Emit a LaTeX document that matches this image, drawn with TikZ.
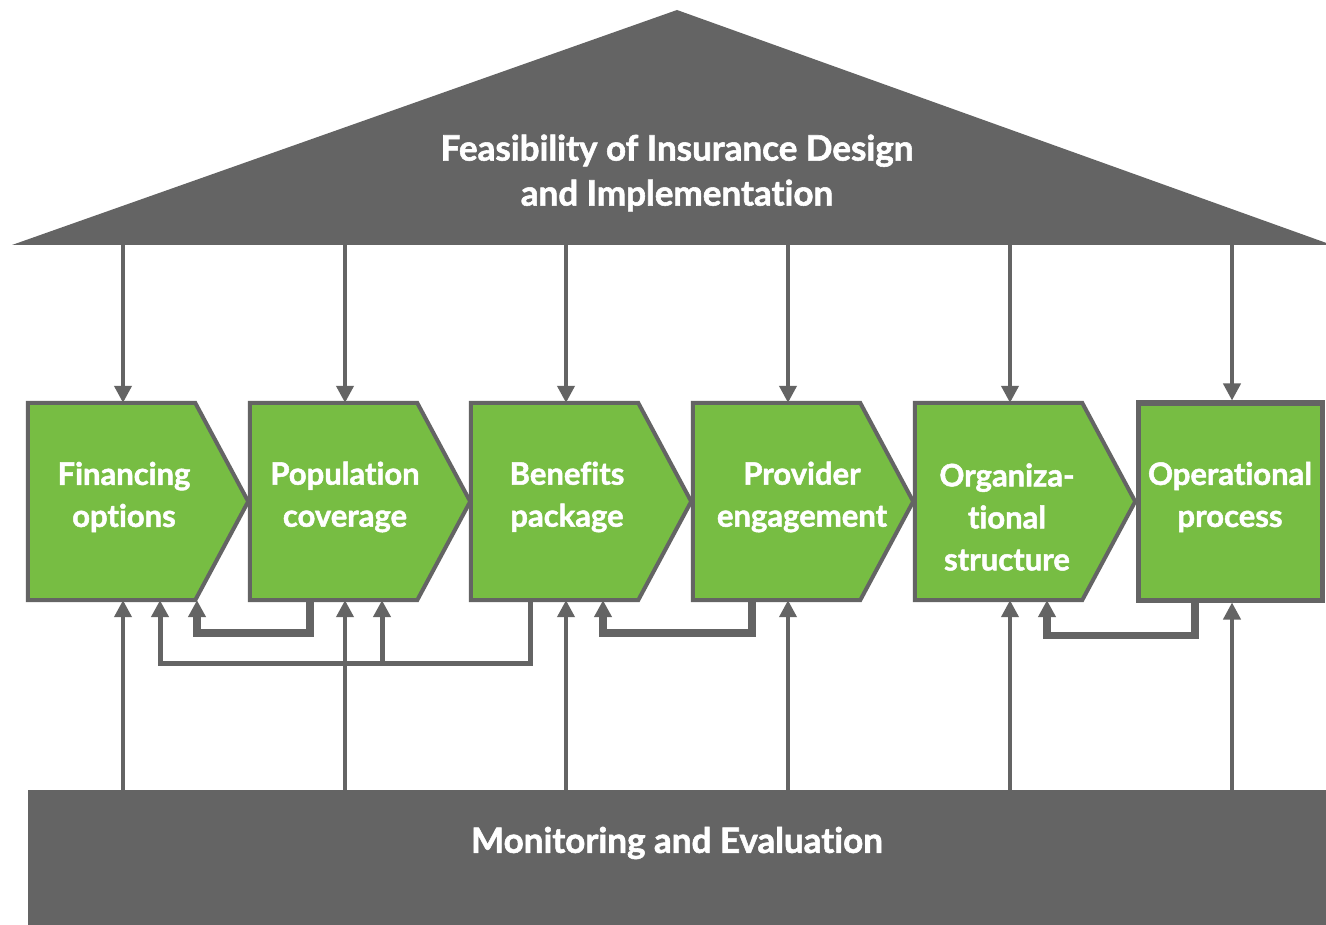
\documentclass[tikz,border=0pt]{standalone}
\usepackage{fontspec}
\setmainfont{Lato}[Ligatures=NoCommon, BoldFeatures={FakeBold=1.6}]
\usetikzlibrary{arrows.meta,calc}
\definecolor{slate}{HTML}{646464}
\definecolor{leaf}{HTML}{77BD43}

\begin{document}
\begin{tikzpicture}[x=1pt,y=-1pt,
  stage/.style={minimum width=220pt, minimum height=197pt, inner sep=0pt, draw=none},
  lastframe/.style={minimum width=184pt, minimum height=197pt, inner sep=0pt,
    fill=leaf, draw=slate, line width=5pt},
  stageshape/.style={fill=leaf, draw=slate, line width=4pt, line join=miter},
  stagetext/.style={text=white, font=\bfseries\fontsize{31}{42}\selectfont, align=center, inner sep=0pt},
  bigtext/.style={text=white, font=\bfseries\fontsize{35}{45}\selectfont, align=center, inner sep=0pt},
  arr/.style={draw=slate, line width=4pt, -{Triangle[width=17pt,length=17pt]}},
  fbthick/.style={draw=slate, line width=7.5pt, -{Triangle[width=17pt,length=17pt]}},
  fbmed/.style={draw=slate, line width=5pt, -{Triangle[width=17pt,length=17pt]}},
]
% canvas
\fill[white] (0,0) rectangle (1326,925);
\useasboundingbox (0,0) rectangle (1326,925);

% roof
\coordinate (roofL) at (12,245);
\coordinate (roofT) at (677,10);
\coordinate (roofR) at (1332,245);
\fill[slate] (roofL) -- (roofT) -- (roofR) -- cycle;
\node[bigtext] (roof) at (677,173) {Feasibility of Insurance Design\\and Implementation};

% base bar
\node[fill=slate, minimum width=1304pt, minimum height=140pt, inner sep=0pt] (me) at (680,860) {};
\node[bigtext] (metext) at (677,843) {Monitoring and Evaluation};

% stage axes
\foreach \i/\x in {1/123,2/345,3/566,4/788,5/1010,6/1232}
  \coordinate (a\i) at (\x,0);

% stages with arrow-shaped right side
\foreach \i/\x in {1/138,2/360,3/581,4/803,5/1025}{
  \node[stage] (b\i) at (\x,501.5) {};
  \draw[stageshape] (b\i.north west) -- ([xshift=-53pt]b\i.north east) -- (b\i.east)
    -- ([xshift=-53pt]b\i.south east) -- (b\i.south west) -- cycle;
}
\node[lastframe] (b6) at (1230,501.5) {};

% stage labels
\node[stagetext] (t1) at (124,497) {Financing\\options};
\node[stagetext] (t2) at (345,497) {Population\\coverage};
\node[stagetext] (t3) at (567,497) {Benefits\\package};
\node[stagetext] (t4) at (802,497) {Provider\\engagement};
\node[stagetext] (t5) at (1007,517) {Organiza-\\tional\\structure};
\node[stagetext] (t6) at (1230,497) {Operational\\process};

% influences from the roof and from monitoring
\foreach \i in {1,...,6}{
  \draw[arr] (a\i |- roofL) -- (a\i |- b\i.north);
  \draw[arr] (a\i |- me.north) -- (a\i |- b\i.south);
}

% feedback loops
\draw[fbthick] ($(b2.south)+(-50,0)$) -- ++(0,33) -| ($(b1.south)+(59,0)$);
\draw[fbmed] ($(b3.south)+(-51,0)$) -- ++(0,63) -| ($(b1.south)+(22,0)$);
\draw[fbmed] ($(b2.south)+(22,63)$) -- ($(b2.south)+(22,0)$);
\draw[fbthick] ($(b4.south)+(-51,0)$) -- ++(0,33) -| ($(b3.south)+(22,0)$);
\draw[fbthick] ($(b6.south)+(-35,0)$) -- ++(0,33) -| ($(b5.south)+(22,0)$);
\end{tikzpicture}
\end{document}
